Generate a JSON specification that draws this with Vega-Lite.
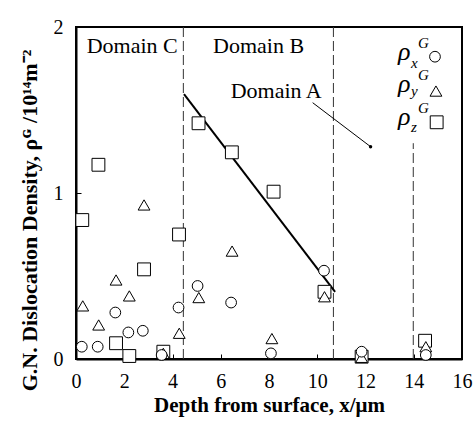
{
  "$schema": "https://vega.github.io/schema/vega-lite/v6.json",
  "width": 386,
  "height": 332,
  "autosize": {"type": "none"},
  "padding": {"left": 76, "top": 27, "right": 13, "bottom": 68},
  "background": "white",
  "config": {
    "view": {"stroke": "black", "strokeWidth": 2},
    "font": "Liberation Serif",
    "axis": {
      "grid": false,
      "domainColor": "black",
      "domainWidth": 2,
      "tickColor": "black",
      "tickSize": -5,
      "tickWidth": 1,
      "labelFont": "Liberation Serif",
      "labelFontSize": 20,
      "labelColor": "black",
      "labelOverlap": false,
      "titleFont": "Liberation Serif",
      "titleFontWeight": "bold",
      "titleColor": "black"
    }
  },
  "datasets": {
    "pts": [
      {"depth": 0.26, "rho": 0.837, "comp": "z"},
      {"depth": 0.93, "rho": 1.17, "comp": "z"},
      {"depth": 1.66, "rho": 0.095, "comp": "z"},
      {"depth": 2.21, "rho": 0.018, "comp": "z"},
      {"depth": 2.82, "rho": 0.54, "comp": "z"},
      {"depth": 3.62, "rho": 0.044, "comp": "z"},
      {"depth": 4.27, "rho": 0.75, "comp": "z"},
      {"depth": 5.08, "rho": 1.42, "comp": "z"},
      {"depth": 6.46, "rho": 1.245, "comp": "z"},
      {"depth": 8.19, "rho": 1.008, "comp": "z"},
      {"depth": 10.3, "rho": 0.405, "comp": "z"},
      {"depth": 11.84, "rho": 0.014, "comp": "z"},
      {"depth": 14.47, "rho": 0.11, "comp": "z"},
      {"depth": 0.28, "rho": 0.32, "comp": "y"},
      {"depth": 0.94, "rho": 0.205, "comp": "y"},
      {"depth": 1.66, "rho": 0.476, "comp": "y"},
      {"depth": 2.21, "rho": 0.38, "comp": "y"},
      {"depth": 2.82, "rho": 0.928, "comp": "y"},
      {"depth": 3.62, "rho": 0.034, "comp": "y"},
      {"depth": 4.28, "rho": 0.155, "comp": "y"},
      {"depth": 5.09, "rho": 0.37, "comp": "y"},
      {"depth": 6.47, "rho": 0.65, "comp": "y"},
      {"depth": 8.12, "rho": 0.123, "comp": "y"},
      {"depth": 10.3, "rho": 0.375, "comp": "y"},
      {"depth": 11.84, "rho": 0.01, "comp": "y"},
      {"depth": 14.5, "rho": 0.074, "comp": "y"},
      {"depth": 0.24, "rho": 0.074, "comp": "x"},
      {"depth": 0.9, "rho": 0.074, "comp": "x"},
      {"depth": 1.63, "rho": 0.28, "comp": "x"},
      {"depth": 2.17, "rho": 0.16, "comp": "x"},
      {"depth": 2.77, "rho": 0.17, "comp": "x"},
      {"depth": 3.55, "rho": 0.024, "comp": "x"},
      {"depth": 4.25, "rho": 0.31, "comp": "x"},
      {"depth": 5.04, "rho": 0.44, "comp": "x"},
      {"depth": 6.43, "rho": 0.34, "comp": "x"},
      {"depth": 8.08, "rho": 0.034, "comp": "x"},
      {"depth": 10.28, "rho": 0.532, "comp": "x"},
      {"depth": 11.84, "rho": 0.044, "comp": "x"},
      {"depth": 14.5, "rho": 0.024, "comp": "x"}
    ],
    "legendSymbols": [
      {"depth": 14.88, "rho": 1.821, "comp": "x"},
      {"depth": 14.92, "rho": 1.614, "comp": "y"},
      {"depth": 14.95, "rho": 1.426, "comp": "z"}
    ],
    "fit": [
      {"depth": 4.477, "rho": 1.595},
      {"depth": 10.74, "rho": 0.405}
    ],
    "bounds": [
      {"depth": 4.45, "lo": 0, "hi": 2},
      {"depth": 10.67, "lo": 0, "hi": 2},
      {"depth": 13.98, "lo": 0, "hi": 1.3}
    ],
    "pointer": [
      {"depth": 9.81, "rho": 1.544, "depth2": 12.21, "rho2": 1.279}
    ],
    "pointerDot": [
      {"depth": 12.21, "rho": 1.279}
    ],
    "domainLabels": [
      {"depth": 0.444, "rho": 1.846, "label": "Domain C"},
      {"depth": 5.68, "rho": 1.846, "label": "Domain B"},
      {"depth": 6.41, "rho": 1.57, "label": "Domain A"}
    ],
    "legendRho": [
      {"depth": 13.35, "rho": 1.801, "label": "ρ"},
      {"depth": 13.35, "rho": 1.608, "label": "ρ"},
      {"depth": 13.35, "rho": 1.41, "label": "ρ"}
    ],
    "legendSmall": [
      {"depth": 13.89, "rho": 1.753, "label": "x"},
      {"depth": 14.18, "rho": 1.873, "label": "G"},
      {"depth": 13.89, "rho": 1.584, "label": "y"},
      {"depth": 14.18, "rho": 1.681, "label": "G"},
      {"depth": 13.89, "rho": 1.367, "label": "z"},
      {"depth": 14.18, "rho": 1.482, "label": "G"}
    ]
  },
  "layer": [
    {
      "data": {"name": "bounds"},
      "mark": {"type": "rule", "color": "#333333", "strokeWidth": 1, "strokeDash": [10, 4]},
      "encoding": {
        "x": {"field": "depth", "type": "quantitative", "scale": {"domain": [0, 16]},
          "axis": {"values": [0, 2, 4, 6, 8, 10, 12, 14, 16], "format": ".0f", "title": "Depth from surface, x/μm", "titleFontSize": 21, "labelFont": "Liberation Serif", "labelFontSize": 20, "labelPadding": 17, "titlePadding": 3, "labelFlush": false, "labelOverlap": false}},
        "y": {"field": "lo", "type": "quantitative", "scale": {"domain": [0, 2]},
          "axis": {"values": [0, 1, 2], "labelExpr": "format(datum.value, '.0f')", "title": "G.N. Dislocation Density, ρᴳ /10¹⁴m⁻²", "titleFontSize": 22, "labelFont": "Liberation Serif", "labelFontSize": 20, "labelPadding": 18, "titlePadding": 12, "titleY": 193, "labelFlush": false, "labelOverlap": false}},
        "y2": {"field": "hi"}
      }
    },
    {
      "data": {"name": "fit"},
      "mark": {"type": "line", "color": "black", "strokeWidth": 2},
      "encoding": {
        "x": {"field": "depth", "type": "quantitative"},
        "y": {"field": "rho", "type": "quantitative"}
      }
    },
    {
      "data": {"name": "pointer"},
      "mark": {"type": "rule", "color": "black", "strokeWidth": 1},
      "encoding": {
        "x": {"field": "depth", "type": "quantitative"},
        "y": {"field": "rho", "type": "quantitative"},
        "x2": {"field": "depth2"},
        "y2": {"field": "rho2"}
      }
    },
    {
      "data": {"name": "pointerDot"},
      "mark": {"type": "point", "shape": "circle", "filled": true, "color": "black", "size": 12, "opacity": 1},
      "encoding": {
        "x": {"field": "depth", "type": "quantitative"},
        "y": {"field": "rho", "type": "quantitative"}
      }
    },
    {
      "data": {"name": "pts"},
      "mark": {"type": "point", "fill": "white", "stroke": "black", "strokeWidth": 1, "opacity": 1, "fillOpacity": 1},
      "encoding": {
        "x": {"field": "depth", "type": "quantitative"},
        "y": {"field": "rho", "type": "quantitative"},
        "shape": {"field": "comp", "type": "nominal", "scale": {"domain": ["x", "y", "z"], "range": ["circle", "triangle-up", "square"]}, "legend": null},
        "size": {"field": "comp", "type": "nominal", "scale": {"domain": ["x", "y", "z"], "range": [115, 165, 135]}, "legend": null}
      }
    },
    {
      "data": {"name": "legendSymbols"},
      "mark": {"type": "point", "fill": "white", "stroke": "black", "strokeWidth": 1, "opacity": 1, "fillOpacity": 1},
      "encoding": {
        "x": {"field": "depth", "type": "quantitative"},
        "y": {"field": "rho", "type": "quantitative"},
        "shape": {"field": "comp", "type": "nominal", "legend": null},
        "size": {"field": "comp", "type": "nominal", "legend": null}
      }
    },
    {
      "data": {"name": "domainLabels"},
      "mark": {"type": "text", "align": "left", "baseline": "alphabetic", "fontSize": 22, "font": "Liberation Serif", "color": "black"},
      "encoding": {
        "x": {"field": "depth", "type": "quantitative"},
        "y": {"field": "rho", "type": "quantitative"},
        "text": {"field": "label"}
      }
    },
    {
      "data": {"name": "legendRho"},
      "mark": {"type": "text", "align": "left", "baseline": "alphabetic", "fontSize": 26, "fontStyle": "italic", "font": "Liberation Serif", "color": "black"},
      "encoding": {
        "x": {"field": "depth", "type": "quantitative"},
        "y": {"field": "rho", "type": "quantitative"},
        "text": {"field": "label"}
      }
    },
    {
      "data": {"name": "legendSmall"},
      "mark": {"type": "text", "align": "left", "baseline": "alphabetic", "fontSize": 15, "fontStyle": "italic", "font": "Liberation Serif", "color": "black"},
      "encoding": {
        "x": {"field": "depth", "type": "quantitative"},
        "y": {"field": "rho", "type": "quantitative"},
        "text": {"field": "label"}
      }
    }
  ]
}
